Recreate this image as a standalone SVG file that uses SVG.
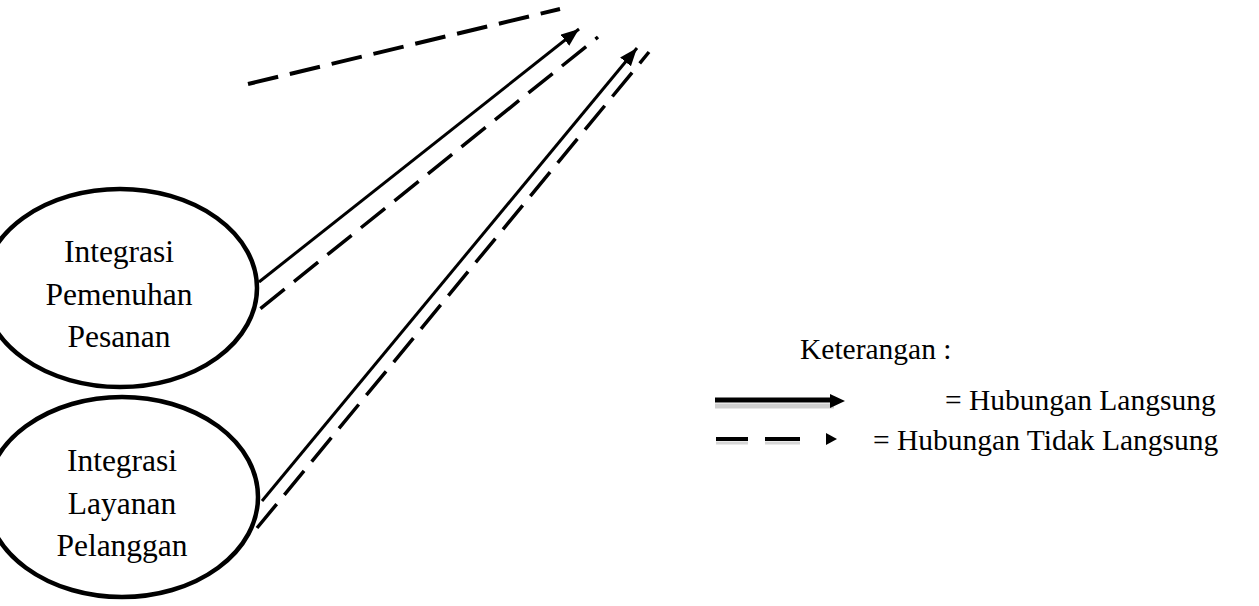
<svg xmlns="http://www.w3.org/2000/svg" width="1259" height="606" viewBox="0 0 1259 606">
<style>
.node{fill:#fff;stroke:#000;stroke-width:4.5}
.lbl{font-family:"Liberation Serif","Times New Roman",serif;font-size:31.5px;fill:#000;text-anchor:middle}
.leg{font-family:"Liberation Serif","Times New Roman",serif;font-size:29.5px;fill:#000}
.solid{stroke:#000;stroke-width:3;fill:none}
.dash{stroke:#000;stroke-width:3.5;fill:none;stroke-dasharray:31 12}
</style>
<defs>
<marker id="ah" markerUnits="userSpaceOnUse" markerWidth="20" markerHeight="16" refX="18" refY="7" orient="auto">
<path d="M0,0 L18,7 L0,14 Z" fill="#000"/>
</marker>
</defs>
<rect width="1259" height="606" fill="#fff"/>
<g id="node-pemenuhan">
<ellipse class="node" cx="120" cy="288" rx="137" ry="99"/>
<text class="lbl" x="119" y="262">Integrasi</text>
<text class="lbl" x="119" y="305">Pemenuhan</text>
<text class="lbl" x="119" y="347">Pesanan</text>
</g>
<g id="node-layanan">
<ellipse class="node" cx="122" cy="497" rx="136" ry="100"/>
<text class="lbl" x="122" y="471">Integrasi</text>
<text class="lbl" x="122" y="514">Layanan</text>
<text class="lbl" x="122" y="556">Pelanggan</text>
</g>
<g id="connectors">
<line x1="248" y1="84" x2="560" y2="9" stroke="#000" stroke-width="4" stroke-dasharray="31 12"/>
<line class="solid" x1="259" y1="282" x2="579" y2="29" marker-end="url(#ah)"/>
<line class="dash" x1="255" y1="313" x2="598" y2="37" stroke-dashoffset="36"/>
<line class="solid" x1="262" y1="501" x2="637" y2="48" marker-end="url(#ah)"/>
<line class="dash" x1="257" y1="528" x2="649" y2="52"/>
</g>
<g id="legend">
<text class="leg" x="800" y="359">Keterangan :</text>
<line x1="715" y1="406" x2="834" y2="406" stroke="#bbb" stroke-width="5" opacity="0.7"/>
<line x1="715" y1="400" x2="834" y2="400" stroke="#000" stroke-width="5"/>
<path d="M830,394 L845,401 L830,408 Z" fill="#000"/>
<text class="leg" x="945" y="410">= Hubungan Langsung</text>
<line x1="716" y1="443" x2="748" y2="443" stroke="#ccc" stroke-width="3" opacity="0.8"/>
<line x1="765" y1="443" x2="800" y2="443" stroke="#ccc" stroke-width="3" opacity="0.8"/>
<line x1="716" y1="439" x2="748" y2="439" stroke="#000" stroke-width="4"/>
<line x1="765" y1="439" x2="800" y2="439" stroke="#000" stroke-width="4"/>
<path d="M826,433 L837,439 L826,445 Z" fill="#000"/>
<text class="leg" x="873" y="450">= Hubungan Tidak Langsung</text>
</g>
</svg>
